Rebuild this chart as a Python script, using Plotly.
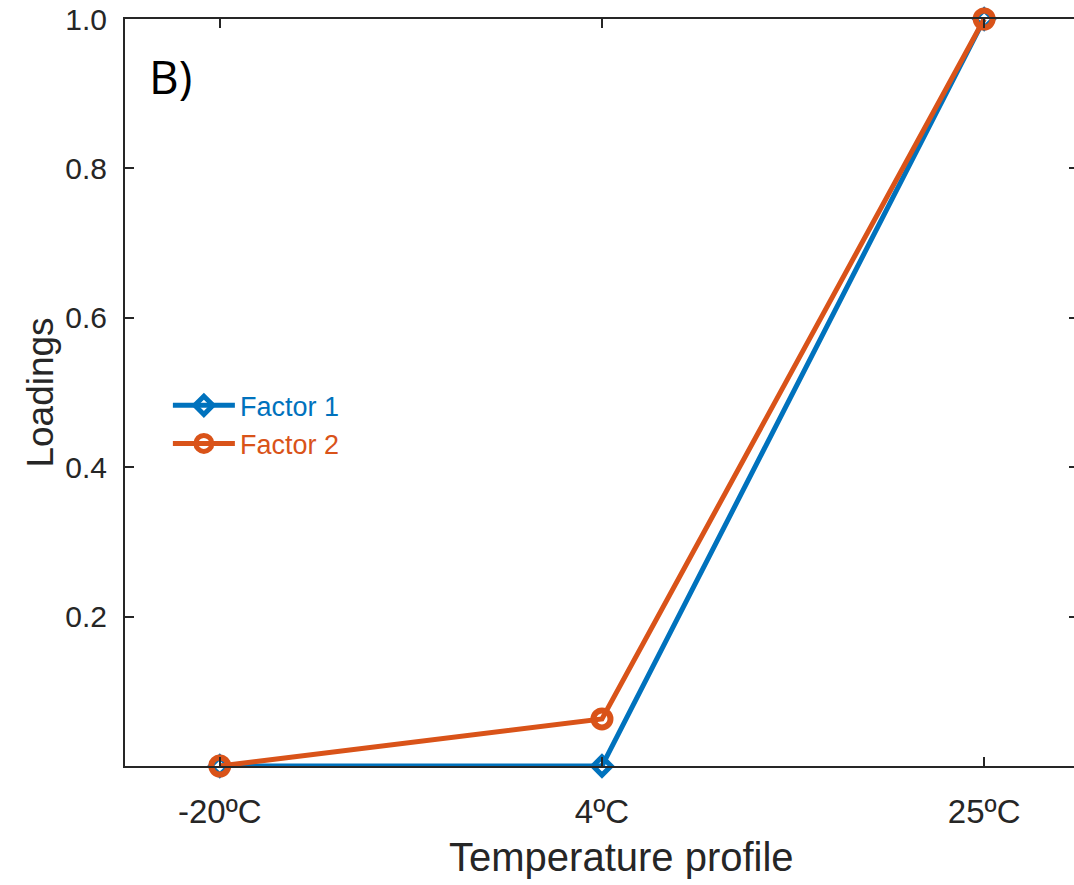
import plotly.graph_objects as go

categories = ["-20ºC", "4ºC", "25ºC"]
factor1 = [0.0, 0.0, 1.0]
factor2 = [0.0, 0.063, 1.0]
y_ticks = [0.2, 0.4, 0.6, 0.8, 1.0]
y_ticktext = ["0.2", "0.4", "0.6", "0.8", "1.0"]

blue = "#0072BD"
orange = "#D95319"
axcol = "#262626"

fig = go.Figure()
fig.add_trace(go.Scatter(
    x=categories, y=factor1, mode="lines+markers",
    name=f"<span style='color:{blue}'>Factor 1</span>",
    line=dict(color=blue, width=5),
    marker=dict(symbol="diamond-open", size=14, color=blue, line=dict(width=5, color=blue)),
    cliponaxis=False,
))
fig.add_trace(go.Scatter(
    x=categories, y=factor2, mode="lines+markers",
    name=f"<span style='color:{orange}'>Factor 2</span>",
    line=dict(color=orange, width=5),
    marker=dict(symbol="circle-open", size=17, color=orange, line=dict(width=6, color=orange)),
    cliponaxis=False,
))

fig.update_layout(
    width=1080, height=885,
    margin=dict(l=125, r=0, t=19, b=119),
    plot_bgcolor="white", paper_bgcolor="white",
    font=dict(family="Liberation Sans, Arial, sans-serif", color=axcol, size=28),
    showlegend=True,
    legend=dict(x=0.045, y=0.515, xanchor="left", yanchor="top",
                bgcolor="rgba(0,0,0,0)", font=dict(size=27), tracegroupgap=0,
                itemwidth=62),
    annotations=[
        dict(text="B)", x=0.023, y=0.968, xref="paper", yref="paper",
             xanchor="left", yanchor="top", showarrow=False,
             font=dict(family="Open Sans, Lato, sans-serif", size=46, color="black")),
        dict(text="Temperature profile", x=0.521, y=-0.09, xref="paper", yref="paper",
             xanchor="center", yanchor="top", showarrow=False,
             font=dict(size=40, color=axcol)),
    ],
)
fig.update_xaxes(
    type="category", range=[-0.248, 2.2455],
    showline=True, linecolor=axcol, linewidth=2, mirror="ticks",
    ticks="inside", ticklen=9, tickwidth=2, tickcolor=axcol,
    showgrid=False, zeroline=False,
    tickfont=dict(size=33), ticklabelstandoff=15,
)
fig.update_yaxes(
    range=[0, 1],
    tickvals=y_ticks, ticktext=y_ticktext,
    showline=True, linecolor=axcol, linewidth=2, mirror="ticks",
    ticks="inside", ticklen=9, tickwidth=2, tickcolor=axcol,
    showgrid=False, zeroline=False,
    tickfont=dict(size=30), ticklabelstandoff=10,
    title=dict(text="Loadings", font=dict(size=37), standoff=0),
)

post = ("document.body.style.margin='0';"
        "document.body.style.overflow='hidden';"
        "document.documentElement.style.overflow='hidden';")
fig.write_html("out.html", post_script=post, config={"displayModeBar": False})
